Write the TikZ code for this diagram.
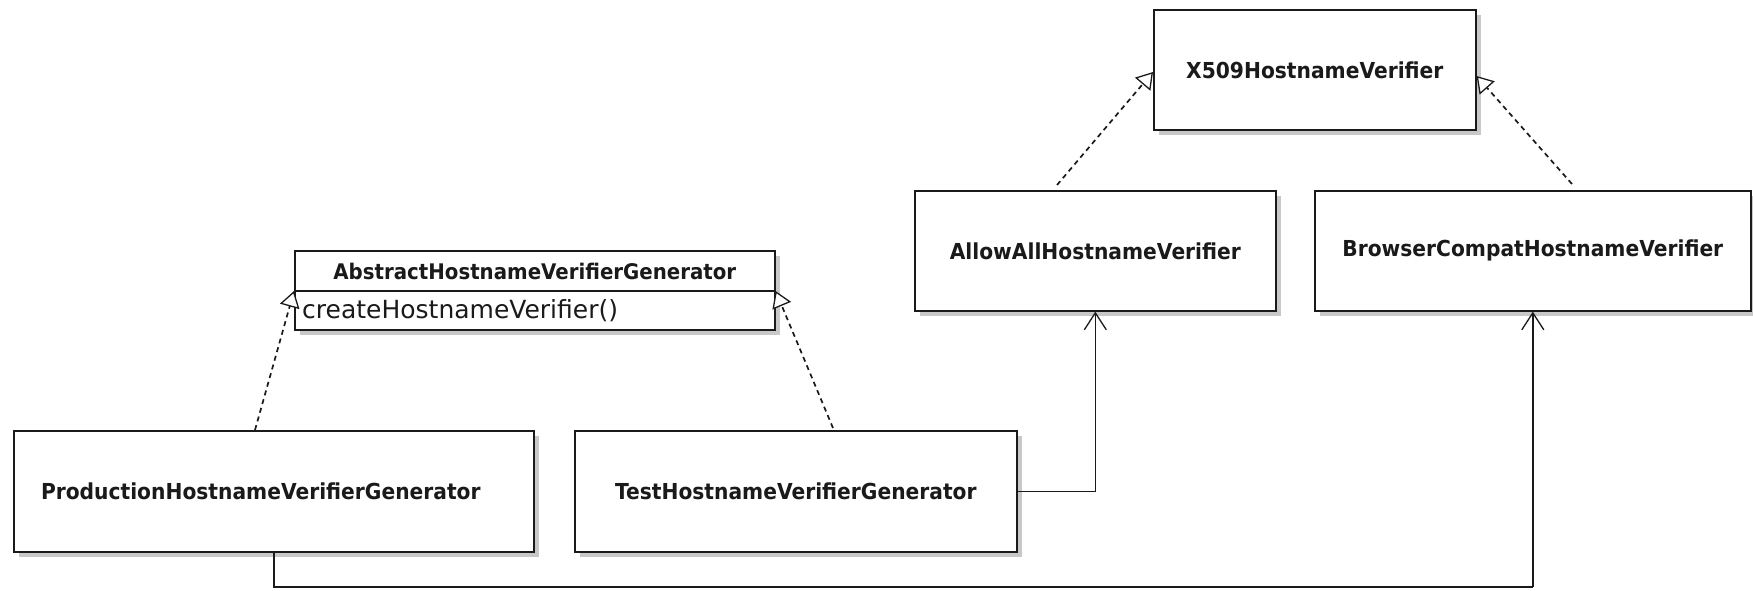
\documentclass[tikz,border=0pt]{standalone}
\usepackage{fontspec}
\setmainfont{DejaVu Sans}
\newfontfamily\titlefont[FakeStretch=0.92]{DejaVu Sans}
\usetikzlibrary{arrows.meta,shadows,calc}
\definecolor{ink}{HTML}{1A1A1A}
\definecolor{shade}{HTML}{C8C8C8}
\tikzset{
  classbox/.style={draw=ink, line width=1.6pt, fill=white, rectangle, inner sep=0pt,
    anchor=north west, font=\titlefont\fontsize{22}{26}\selectfont\bfseries, text=ink,
    drop shadow={shadow xshift=5pt, shadow yshift=-5pt, fill=shade, opacity=1}},
  realize/.style={draw=ink, line width=1.7pt, dash pattern=on 5pt off 4pt,
    -{Triangle[open, length=16pt, width=20pt, fill=white, line width=1.3pt]}},
  assoc/.style={draw=ink, line width=1.6pt,
    -{Straight Barb[length=17pt, width=22pt, line width=1.3pt]}},
  plain/.style={draw=ink, line width=1.6pt}
}
\begin{document}
\begin{tikzpicture}[x=1pt, y=-1pt]
\useasboundingbox[fill=white] (0,0) rectangle (1753,590);

% classes
\node[classbox, minimum width=322pt, minimum height=120pt] (x509) at (1153,9) {X509HostnameVerifier};
\node[classbox, minimum width=361pt, minimum height=120pt] (allow) at (914,190) {AllowAllHostnameVerifier};
\node[classbox, minimum width=436pt, minimum height=120pt] (browser) at (1314,190) {BrowserCompatHostnameVerifier};
\node[classbox, minimum width=520pt, minimum height=121pt] (prod) at (13,430) {ProductionHostnameVerifierGenerator\hspace*{26pt}};
\node[classbox, minimum width=442pt, minimum height=121pt] (test) at (574,430) {TestHostnameVerifierGenerator};

% abstract class with operation compartment
\node[classbox, minimum width=480pt, minimum height=79pt] (abs) at (294,250) {};
\coordinate (absdivl) at ($(abs.north west)+(0,41)$);
\coordinate (absdivr) at ($(abs.north east)+(0,41)$);
\draw[draw=ink, line width=1.6pt] (absdivl) -- (absdivr);
\node[font=\titlefont\fontsize{21.5}{25}\selectfont\bfseries, text=ink, inner sep=0pt] (absname)
  at ($(abs.north)+(0,21)$) {AbstractHostnameVerifierGenerator};
\node[font=\fontsize{25}{28}\selectfont, text=ink, inner sep=0pt, anchor=west] (absop)
  at ($(absdivl)+(8,20)$) {createHostnameVerifier()};

% realizations (dashed, open triangle)
\draw[realize] ($(prod.north west)+(242,0)$) -- (absdivl);
\draw[realize] ($(test.north west)+(259,-2)$) -- (absdivr);
\draw[realize] ($(allow.north west)+(143,-5)$) -- ($(x509.north west)+(0,63)$);
\draw[realize] ($(browser.north west)+(258,-6)$) -- ($(x509.north east)+(0,67)$);

% associations
\draw[assoc] (test.east) -| (allow.south);
\coordinate (low) at (0,587);
\draw[plain] (prod.south) -- (prod.south |- low) -- (browser.south |- low);
\draw[assoc] (browser.south |- low) -- (browser.south);
\end{tikzpicture}
\end{document}
